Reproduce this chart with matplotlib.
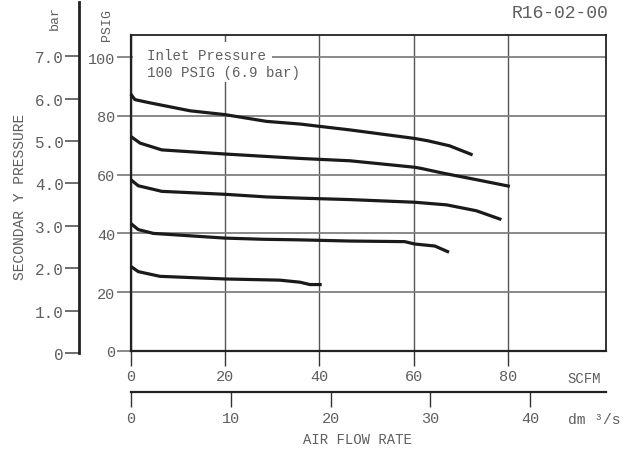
import matplotlib
matplotlib.use("Agg")
import matplotlib.pyplot as plt
from matplotlib.patches import Rectangle

# ---- data (SCFM, PSIG) ----
c1_x = [0, 0.9, 4.1, 12.6, 20, 28.8, 35.9, 40.1, 46.5, 60.2, 63, 67.6, 72.5]
c1_y = [87.4, 85.5, 84.4, 81.7, 80.4, 78.1, 77.2, 76.4, 75.2, 72.3, 71.5, 69.8, 66.7]
c2_x = [0, 2, 6.6, 20, 35.9, 46.5, 60.2, 61.6, 66.2, 72.6, 80.4]
c2_y = [73, 70.7, 68.4, 67, 65.5, 64.7, 62.5, 62.1, 60.5, 58.5, 56]
c3_x = [0, 1.6, 6.6, 20, 28.8, 35.9, 46.5, 60.2, 67, 73.3, 78.6]
c3_y = [58.3, 56.2, 54.3, 53.3, 52.4, 52.0, 51.5, 50.6, 49.7, 47.7, 44.7]
c4_x = [0, 1.6, 4.8, 20, 28.1, 35.9, 46.5, 58.1, 60.2, 64.5, 67.5]
c4_y = [43.4, 41.3, 40, 38.4, 38.0, 37.8, 37.4, 37.2, 36.4, 35.7, 33.6]
c5_x = [0, 1.6, 6.2, 20, 31.6, 35.9, 38, 40.5]
c5_y = [28.8, 27, 25.4, 24.5, 24.1, 23.4, 22.6, 22.6]
curves = [(c1_x, c1_y), (c2_x, c2_y), (c3_x, c3_y), (c4_x, c4_y), (c5_x, c5_y)]

psig_ticks = [0, 20, 40, 60, 80, 100]
scfm_ticks = [0, 20, 40, 60, 80]
bar_ticks = [0, 1, 2, 3, 4, 5, 6, 7]
bar_labels = ["0", "1.0", "2.0", "3.0", "4.0", "5.0", "6.0", "7.0"]
dm_ticks = [0, 10, 20, 30, 40]
SCFM_TO_DM3S = 0.47195

W, H = 624, 452
FONT = "Liberation Mono"
TXT = "#5e5e5e"
plt.rcParams['font.family'] = [FONT, 'DejaVu Sans']

def fx(px):
    return px / W

def fy(py):
    return 1 - py / H

fig = plt.figure(figsize=(W / 100, H / 100), dpi=100)

# main axes
L, R, T, B = 130.7, 605.5, 36, 352
ax = fig.add_axes([fx(L), fy(B), (R - L) / W, (B - T) / H])
XMAX = (R - L) / 4.716
ax.set_xlim(0, XMAX)
ax.set_ylim(0, (B - T) / 2.94)
ax.set_xticks(scfm_ticks)
ax.set_yticks(psig_ticks)
ax.set_xticklabels([str(v) for v in scfm_ticks], fontsize=11, color=TXT, family=FONT)
ax.set_yticklabels([str(v) for v in psig_ticks], fontsize=11, color=TXT, family=FONT)
ax.tick_params(axis='x', direction='out', length=11, width=1.0, color='#333333', pad=2)
ax.tick_params(axis='y', direction='out', length=10, width=1.2, color='#777777', pad=1)
ax.grid(True, axis='y', color='#808080', lw=1.3, zorder=1)
ax.grid(True, axis='x', color='#555555', lw=1.0, zorder=1)
for s in ['left', 'bottom']:
    ax.spines[s].set_linewidth(1.6)
    ax.spines[s].set_color('#222222')
for s in ['top', 'right']:
    ax.spines[s].set_linewidth(1.3)
    ax.spines[s].set_color('#222222')

for cx, cy in curves:
    ax.plot(cx, cy, color='#1a1a1a', lw=2.3, solid_capstyle='butt', zorder=4, clip_on=False)

# white box behind inlet text
ax.add_patch(Rectangle((fx(133), fy(83)), (272 - 133) / W, (83 - 43) / H,
                       transform=fig.transFigure, facecolor='white', edgecolor='none',
                       zorder=2, clip_on=False))
fig.text(fx(146.7), fy(56), "Inlet Pressure", fontsize=10.2, color=TXT, va='center', ha='left', zorder=5)
fig.text(fx(146.7), fy(73), "100 PSIG (6.9 bar)", fontsize=10.2, color=TXT, va='center', ha='left', zorder=5)

# secondary bar axis
axb = fig.add_axes([fx(78.5), fy(354), 0.0005, (354 - 3) / H])
axb.set_ylim(0, 351 / 42.4)
axb.set_xticks([])
axb.set_yticks(bar_ticks)
axb.set_yticklabels(bar_labels, fontsize=11.5, color=TXT, family=FONT)
axb.tick_params(axis='y', direction='out', length=10, width=1.2, color='#555555', pad=0.5)
for s in ['top', 'right', 'bottom']:
    axb.spines[s].set_visible(False)
axb.spines['left'].set_linewidth(2.0)
axb.spines['left'].set_color('#222222')
axb.patch.set_visible(False)

# secondary flow axis (dm3/s)
axd = fig.add_axes([fx(L), fy(393), (R - L) / W, 0.0005])
axd.set_xlim(0, XMAX * SCFM_TO_DM3S)
axd.set_yticks([])
axd.set_xticks(dm_ticks)
axd.set_xticklabels([str(v) for v in dm_ticks], fontsize=11, color=TXT, family=FONT)
axd.tick_params(axis='x', direction='out', length=10.5, width=1.0, color='#333333', pad=3)
for s in ['top', 'right', 'left']:
    axd.spines[s].set_visible(False)
axd.spines['bottom'].set_linewidth(1.6)
axd.spines['bottom'].set_color('#222222')
axd.patch.set_visible(False)

# labels
fig.text(fx(608), fy(14), "R16-02-00", fontsize=13, color=TXT, ha='right', va='center')
fig.text(fx(55), fy(18), "bar", fontsize=9.5, color=TXT, rotation=90, ha='center', va='center')
fig.text(fx(107), fy(25), "PSIG", fontsize=9.5, color=TXT, rotation=90, ha='center', va='center')
fig.text(fx(20), fy(197), "SECONDAR Y PRESSURE", fontsize=10.5, color=TXT, rotation=90,
         ha='center', va='center')
fig.text(fx(567), fy(379), "SCFM", fontsize=10, color=TXT, ha='left', va='center')
fig.text(fx(568), fy(420), "dm \u00b3/s", fontsize=10.5, color=TXT, ha='left', va='center')
fig.text(fx(357), fy(440), "AIR FLOW RATE", fontsize=10, color=TXT, ha='center', va='center')

fig.savefig("out.png", dpi=100)
